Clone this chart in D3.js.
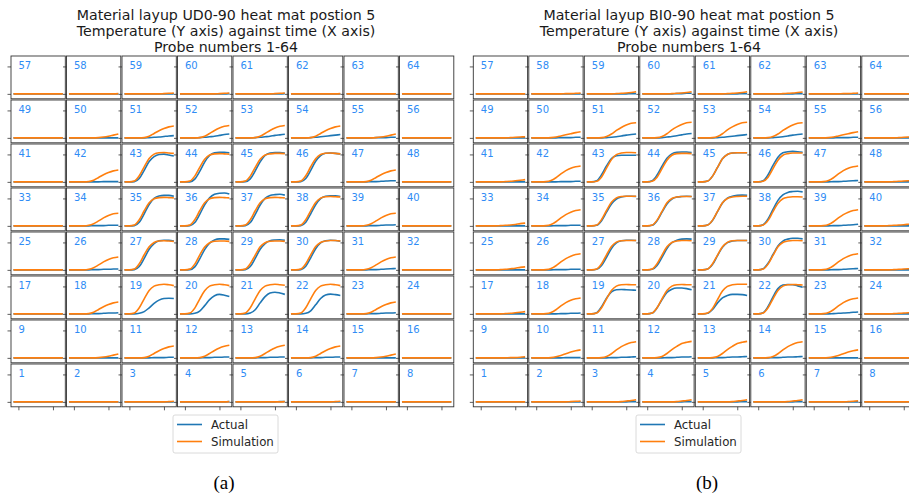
<!DOCTYPE html>
<html>
<head>
<meta charset="utf-8">
<script src="https://cdn.jsdelivr.net/npm/d3@7"></script>
<style>
  html, body { margin: 0; padding: 0; background: #fff; }
  svg { display: block; }
</style>
</head>
<body>
<script>
// ---------------- DATA ----------------
const timeSteps = [0, 1, 2, 3, 4, 5, 6, 7, 8, 9, 10];
const xTicks = [1, 8];
const yTicks = [0, 100];
const seriesNames = ["Actual", "Simulation"];
const titleUD = ["Material layup UD0-90 heat mat postion 5", "Temperature (Y axis) against time (X axis)", "Probe numbers 1-64"];
const titleBI = ["Material layup BI0-90 heat mat postion 5", "Temperature (Y axis) against time (X axis)", "Probe numbers 1-64"];
const captions = ["(a)", "(b)"];

// probe 1..64 (index = probe-1); temperature rise values per time step
const udSimulation = [
  [0,0,0,0,0,0,0,0,0,0,0],[0,0,0,0,0,0,0,0,0,0,0],[0,0,0,0,0,0,0,0,0,1,2],[0,0,0,0,0,0,0,0,0,0,1],
  [0,0,0,0,0,0,0,0,0,0,1],[0,0,0,0,0,0,0,0,0,1,2],[0,0,0,0,0,0,0,0,0,0,0],[0,0,0,0,0,0,0,0,0,0,0],
  [0,0,0,0,0,0,0,0,0,0,0],[0,0,0,0,0,0,1,3,6,10,14],[0,0,0,0,1,6,16,26,34,40,43],[0,0,0,0,1,6,16,27,36,42,46],
  [0,0,0,0,1,6,16,27,36,42,46],[0,0,0,0,1,6,16,26,34,40,43],[0,0,0,0,0,0,1,3,6,10,14],[0,0,0,0,0,0,0,0,0,0,0],
  [0,0,0,0,0,0,0,0,0,0,0],[0,0,0,0,1,6,16,26,34,40,43],[0,0,3,22,55,85,101,106,108,106,103],[0,0,3,21,54,84,101,106,108,106,103],
  [0,0,3,22,55,85,101,106,108,106,104],[0,0,3,22,55,85,101,106,108,106,103],[0,0,0,0,1,6,16,26,34,40,43],[0,0,0,0,0,0,0,0,0,0,0],
  [0,0,0,0,0,0,0,0,0,0,0],[0,0,0,0,2,8,18,29,38,44,47],[0,0,3,22,55,84,100,105,106,105,104],[0,0,3,21,54,83,99,104,105,105,104],
  [0,0,3,22,54,84,99,104,105,105,104],[0,0,3,22,55,85,100,105,107,107,105],[0,0,0,0,2,8,18,29,38,44,47],[0,0,0,0,0,0,0,0,0,0,0],
  [0,0,0,0,0,0,0,0,0,0,0],[0,0,0,0,2,8,18,29,38,44,46],[0,0,3,22,55,84,99,103,104,103,102],[0,0,3,22,55,84,99,103,104,103,102],
  [0,0,3,22,55,84,99,103,104,103,102],[0,0,3,22,55,85,101,106,107,106,105],[0,0,0,0,2,8,18,29,38,44,46],[0,0,0,0,0,0,0,0,0,0,0],
  [0,0,0,0,0,0,0,0,0,0,0],[0,0,0,0,1,6,16,26,34,40,43],[0,0,3,22,55,85,101,106,107,105,104],[0,0,3,21,53,82,98,102,103,102,101],
  [0,0,3,21,53,82,98,102,104,104,103],[0,0,3,22,55,84,100,104,105,104,102],[0,0,0,0,1,6,16,26,34,40,43],[0,0,0,0,0,0,0,0,0,0,0],
  [0,0,0,0,0,0,0,0,0,0,0],[0,0,0,0,0,0,1,3,6,10,14],[0,0,0,0,1,6,16,26,34,40,43],[0,0,0,0,1,6,16,27,36,42,45],
  [0,0,0,0,1,6,16,27,36,42,45],[0,0,0,0,1,6,16,26,34,40,43],[0,0,0,0,0,0,1,3,6,10,14],[0,0,0,0,0,0,0,0,0,0,0],
  [0,0,0,0,0,0,0,0,0,0,0],[0,0,0,0,0,0,0,0,0,0,1],[0,0,0,0,0,0,0,0,1,2,3],[0,0,0,0,0,0,0,0,1,2,3],
  [0,0,0,0,0,0,0,0,1,2,3],[0,0,0,0,0,0,0,0,0,0,1],[0,0,0,0,0,0,0,0,0,0,0],[0,0,0,0,0,0,0,0,0,0,0]
];
const udActual = [
  [0,0,0,0,0,0,0,0,0,0,0],[0,0,0,0,0,0,0,0,0,0,0],[0,0,0,0,0,0,0,0,0,0,0],[0,0,0,0,0,0,0,0,0,0,1],
  [0,0,0,0,0,0,0,0,0,1,1],[0,0,0,0,0,0,0,0,0,0,0],[0,0,0,0,0,0,0,0,0,0,0],[0,0,0,0,0,0,0,0,0,0,0],
  [0,0,0,0,0,0,0,0,0,0,0],[0,0,0,0,0,0,0,0,0,0,0],[0,0,0,0,0,0,1,1,1,2,2],[0,0,0,0,0,1,1,2,2,3,3],
  [0,0,0,0,0,1,1,2,2,3,3],[0,0,0,0,0,1,1,2,2,3,3],[0,0,0,0,0,0,0,0,0,0,0],[0,0,0,0,0,0,0,0,0,0,0],
  [0,0,0,0,0,0,0,0,0,0,0],[0,0,0,0,0,1,1,2,3,3,4],[0,0,0,2,8,22,38,50,56,57,56],[0,0,0,2,10,30,52,66,71,68,63],
  [0,0,0,3,15,40,63,76,79,76,71],[0,0,0,2,11,33,56,69,72,70,67],[0,0,0,0,0,1,1,2,3,3,4],[0,0,0,0,0,0,0,0,0,0,0],
  [0,0,0,0,0,0,0,0,0,0,0],[0,0,0,0,0,1,1,2,2,3,3],[0,0,1,12,42,75,96,106,108,108,105],[0,0,1,11,40,74,97,109,113,113,111],
  [0,0,1,12,42,75,96,106,109,110,108],[0,0,1,13,44,77,98,106,108,107,104],[0,0,0,0,0,1,1,2,3,4,5],[0,0,0,0,0,0,0,0,0,0,0],
  [0,0,0,0,0,0,0,0,0,0,0],[0,0,0,0,0,1,1,1,2,2,2],[0,0,1,13,44,78,100,109,111,111,108],[0,0,1,12,42,77,102,115,119,120,116],
  [0,0,1,12,42,76,100,111,114,115,112],[0,0,1,13,44,77,99,108,110,110,107],[0,0,0,0,0,1,1,2,3,3,4],[0,0,0,0,0,0,0,0,0,0,0],
  [0,0,0,0,0,0,0,0,0,0,0],[0,0,0,0,0,0,0,1,1,1,1],[0,0,1,12,42,74,92,100,101,98,94],[0,0,0,10,38,72,96,106,108,108,106],
  [0,0,1,11,40,73,96,105,107,107,105],[0,0,1,12,42,75,96,104,105,104,102],[0,0,0,0,0,1,1,2,3,4,4],[0,0,0,0,0,0,0,0,0,0,0],
  [0,0,0,0,0,0,0,0,0,0,0],[0,0,0,0,0,0,0,0,0,0,0],[0,0,0,0,0,1,2,3,5,7,8],[0,0,0,0,1,2,4,6,9,12,14],
  [0,0,0,0,1,2,4,6,9,11,13],[0,0,0,0,1,2,4,6,8,10,12],[0,0,0,0,0,0,1,1,1,2,2],[0,0,0,0,0,0,0,0,0,0,0],
  [0,0,0,0,0,0,0,0,0,0,0],[0,0,0,0,0,0,0,0,0,0,0],[0,0,0,0,0,0,0,0,0,0,0],[0,0,0,0,0,0,0,0,0,0,1],
  [0,0,0,0,0,0,0,0,0,0,1],[0,0,0,0,0,0,0,0,0,0,0],[0,0,0,0,0,0,0,0,0,0,0],[0,0,0,0,0,0,0,0,0,0,0]
];
const biSimulation = [
  [0,0,0,0,0,0,0,0,0,0,0],[0,0,0,0,0,0,0,0,1,2,3],[0,0,0,0,0,0,0,1,3,5,8],[0,0,0,0,0,0,0,1,3,5,8],
  [0,0,0,0,0,0,0,1,3,5,8],[0,0,0,0,0,0,0,1,3,5,8],[0,0,0,0,0,0,0,0,1,2,4],[0,0,0,0,0,0,0,0,0,0,0],
  [0,0,0,0,0,0,0,1,1,2,4],[0,0,0,0,1,4,9,15,21,26,29],[0,0,0,1,5,15,29,41,50,56,59],[0,0,0,1,5,16,30,42,52,57,60],
  [0,0,0,1,5,16,30,42,52,57,60],[0,0,0,1,5,15,29,41,50,56,59],[0,0,0,0,1,4,9,15,21,26,29],[0,0,0,0,0,0,0,0,0,0,0],
  [0,0,0,0,0,0,1,2,4,6,8],[0,0,0,1,5,15,29,41,50,55,58],[0,0,3,22,55,85,101,106,107,106,106],[0,0,3,22,55,85,101,106,107,106,106],
  [0,0,3,20,52,83,100,106,108,108,108],[0,0,3,22,55,85,101,106,107,106,105],[0,0,0,1,5,15,29,41,50,55,58],[0,0,0,0,0,0,1,2,3,4,6],
  [0,0,0,0,0,1,2,4,6,9,11],[0,0,0,1,5,15,29,41,50,56,59],[0,0,3,22,55,85,101,106,107,107,107],[0,0,3,22,54,84,100,105,107,107,106],
  [0,0,3,22,54,84,100,106,107,107,107],[0,0,3,21,53,84,100,105,107,107,106],[0,0,0,1,5,15,29,41,50,56,59],[0,0,0,0,0,0,1,2,3,4,5],
  [0,0,0,0,0,1,2,3,5,8,10],[0,0,0,1,5,15,29,41,50,56,59],[0,0,3,23,56,86,102,107,108,108,108],[0,0,3,21,53,84,100,105,107,107,107],
  [0,0,3,21,53,84,100,105,107,108,108],[0,0,3,20,52,82,99,104,106,106,105],[0,0,0,1,5,15,29,41,50,56,59],[0,0,0,0,0,1,2,3,4,6,8],
  [0,0,0,0,0,0,1,2,4,6,8],[0,0,0,1,5,15,29,41,50,55,58],[0,0,2,18,50,81,99,105,107,107,106],[0,0,2,17,48,79,97,103,104,104,103],
  [0,0,3,21,53,84,100,105,106,106,106],[0,0,2,17,48,79,97,103,105,105,105],[0,0,0,1,5,15,29,41,50,55,58],[0,0,0,0,0,0,1,2,3,4,5],
  [0,0,0,0,0,0,0,1,2,3,4],[0,0,0,0,1,3,7,11,15,19,22],[0,0,0,1,5,14,27,38,47,53,55],[0,0,0,1,5,15,29,40,49,55,57],
  [0,0,0,1,5,15,29,40,49,55,57],[0,0,0,1,5,14,27,38,47,53,55],[0,0,0,0,1,3,7,11,15,19,22],[0,0,0,0,0,0,0,1,2,3,4],
  [0,0,0,0,0,0,0,0,0,0,0],[0,0,0,0,0,0,0,1,1,2,3],[0,0,0,0,0,0,1,2,3,5,8],[0,0,0,0,0,0,1,2,3,5,8],
  [0,0,0,0,0,0,1,2,3,5,8],[0,0,0,0,0,0,1,2,3,5,7],[0,0,0,0,0,0,0,1,1,2,3],[0,0,0,0,0,0,0,0,0,0,0]
];
const biActual = [
  [0,0,0,0,0,0,0,0,0,0,0],[0,0,0,0,0,0,0,0,0,0,0],[0,0,0,0,0,0,0,0,0,1,1],[0,0,0,0,0,0,0,0,0,1,1],
  [0,0,0,0,0,0,0,0,0,1,1],[0,0,0,0,0,0,0,0,0,1,1],[0,0,0,0,0,0,0,0,0,0,0],[0,0,0,0,0,0,0,0,0,0,0],
  [0,0,0,0,0,0,0,0,0,0,0],[0,0,0,0,0,0,0,1,1,1,1],[0,0,0,0,0,1,1,2,2,3,4],[0,0,0,0,0,1,1,2,3,3,4],
  [0,0,0,0,1,1,2,3,3,4,5],[0,0,0,0,1,1,2,3,3,4,5],[0,0,0,0,0,0,0,0,0,0,0],[0,0,0,0,0,0,0,0,0,0,0],
  [0,0,0,0,0,0,0,0,0,0,0],[0,0,0,0,0,0,1,1,2,2,3],[0,0,4,26,57,80,88,89,88,87,86],[0,0,3,22,52,78,90,94,94,92,88],
  [0,0,2,16,40,58,67,71,71,70,67],[0,0,4,27,62,92,105,107,106,102,97],[0,0,0,0,0,1,2,3,4,6,7],[0,0,0,0,0,0,0,0,0,0,0],
  [0,0,0,0,0,0,0,0,0,0,0],[0,0,0,0,0,1,1,1,2,2,2],[0,0,2,16,46,78,98,106,108,108,107],[0,0,2,16,46,78,99,108,112,113,112],
  [0,0,3,20,52,82,99,105,107,107,107],[0,0,4,24,56,87,105,112,115,115,113],[0,0,0,0,0,1,1,2,3,4,5],[0,0,0,0,0,0,0,0,0,0,0],
  [0,0,0,0,0,0,0,0,0,0,0],[0,0,0,0,0,1,1,1,2,2,2],[0,0,2,19,50,80,98,105,108,108,107],[0,0,2,19,50,80,98,105,107,108,107],
  [0,0,3,20,52,83,101,108,111,112,111],[0,0,4,25,60,93,113,122,125,126,124],[0,0,0,0,0,1,1,2,3,4,6],[0,0,0,0,0,0,0,0,0,0,0],
  [0,0,0,0,0,0,0,0,0,0,0],[0,0,0,0,0,0,1,1,1,2,2],[0,0,4,26,58,85,95,97,97,97,97],[0,0,4,25,57,86,102,108,109,109,107],
  [0,0,3,21,53,84,100,105,106,106,106],[0,0,4,26,60,90,106,110,111,110,108],[0,0,0,0,0,1,1,2,3,4,5],[0,0,0,0,0,0,0,0,0,0,0],
  [0,0,0,0,0,0,0,0,0,0,0],[0,0,0,0,0,0,1,1,1,2,2],[0,0,0,0,1,2,4,7,10,12,14],[0,0,0,0,1,3,5,8,11,14,16],
  [0,0,0,0,1,2,4,6,8,10,12],[0,0,0,0,1,2,4,7,10,12,14],[0,0,0,0,0,0,1,1,1,2,2],[0,0,0,0,0,0,0,0,0,0,0],
  [0,0,0,0,0,0,0,0,0,0,0],[0,0,0,0,0,0,0,0,0,0,0],[0,0,0,0,0,0,0,0,0,1,1],[0,0,0,0,0,0,0,1,1,2,2],
  [0,0,0,0,0,0,0,0,0,1,1],[0,0,0,0,0,0,0,0,0,1,1],[0,0,0,0,0,0,0,0,0,0,0],[0,0,0,0,0,0,0,0,0,0,0]
];

// ---------------- DRAWING ----------------
const W = 909, H = 497;
const colors = { Actual: "#1f77b4", Simulation: "#ff7f0e" };
const svg = d3.select("body").append("svg").attr("width", W).attr("height", H);

const panels = [
  { title: titleUD, x0: 11,    titleX: 226, capX: 224, legendX: 173, caption: captions[0], act: udActual, sim: udSimulation },
  { title: titleBI, x0: 473.3, titleX: 689, capX: 707, legendX: 636, caption: captions[1], act: biActual, sim: biSimulation }
];
const gridTop = 56, cw = 55.5, ch = 44;
const x = d3.scaleLinear().domain([-0.5, 10.5]).range([0, cw - 1.2]);
const y = d3.scaleLinear().domain([-18, 138]).range([ch - 1.2, 0]);
const line = d3.line().x((d, i) => x(timeSteps[i])).y(d => y(d)).curve(d3.curveMonotoneX);

panels.forEach((P, pi) => {
  const g = svg.append("g");
  // title
  P.title.forEach((t, i) => {
    g.append("text").attr("x", P.titleX).attr("y", 20 + i * 16)
      .attr("text-anchor", "middle")
      .attr("font-family", "DejaVu Sans, sans-serif").attr("font-size", 14.2)
      .attr("fill", "#1a1a1a").text(t);
  });
  for (let p = 1; p <= 64; p++) {
    const r = 7 - Math.floor((p - 1) / 8);
    const c = (p - 1) % 8;
    const cg = g.append("g").attr("transform", `translate(${P.x0 + c * cw},${gridTop + r * ch})`);
    const clipId = `clip-${pi}-${p}`;
    cg.append("clipPath").attr("id", clipId).append("rect")
      .attr("width", cw - 1.2).attr("height", ch - 1.2);
    // lines
    const lg = cg.append("g").attr("clip-path", `url(#${clipId})`);
    lg.append("path").datum(P.act[p - 1]).attr("d", line)
      .attr("fill", "none").attr("stroke", colors.Actual).attr("stroke-width", 1.6);
    lg.append("path").datum(P.sim[p - 1]).attr("d", line)
      .attr("fill", "none").attr("stroke", colors.Simulation).attr("stroke-width", 1.6);
    // frame
    cg.append("rect").attr("width", cw - 1.2).attr("height", ch - 1.2)
      .attr("fill", "none").attr("stroke", "#333").attr("stroke-width", 0.9);
    // y ticks
    const ya = cg.append("g").call(d3.axisLeft(y).tickValues(yTicks).tickSize(3.5).tickFormat(""));
    ya.select(".domain").remove();
    ya.selectAll("line").attr("stroke", "#333").attr("stroke-width", 0.8);
    // x ticks on bottom row
    if (r === 7) {
      const xa = cg.append("g").attr("transform", `translate(0,${ch - 1.2})`)
        .call(d3.axisBottom(x).tickValues(xTicks).tickSize(3.5).tickFormat(""));
      xa.select(".domain").remove();
      xa.selectAll("line").attr("stroke", "#333").attr("stroke-width", 0.8);
    }
    // probe label
    cg.append("text").attr("x", 7.5).attr("y", 12.8)
      .attr("font-family", "DejaVu Sans, sans-serif").attr("font-size", 10)
      .attr("fill", "#2f8cf5").text(p);
  }
  // legend
  const lgd = g.append("g").attr("transform", `translate(${P.legendX},415)`);
  lgd.append("rect").attr("width", 105).attr("height", 38).attr("rx", 2)
    .attr("fill", "#fff").attr("stroke", "#d0d0d0").attr("stroke-width", 0.8);
  seriesNames.forEach((s, i) => {
    lgd.append("line").attr("x1", 4).attr("x2", 29).attr("y1", 9.5 + i * 17).attr("y2", 9.5 + i * 17)
      .attr("stroke", colors[s]).attr("stroke-width", 1.6);
    lgd.append("text").attr("x", 38).attr("y", 13.5 + i * 17)
      .attr("font-family", "DejaVu Sans, sans-serif").attr("font-size", 11.8)
      .attr("fill", "#262626").text(s);
  });
  // caption
  g.append("text").attr("x", P.capX).attr("y", 489).attr("text-anchor", "middle")
    .attr("font-family", "Liberation Serif, Times New Roman, serif").attr("font-size", 19)
    .attr("fill", "#000").text(P.caption);
});
</script>
</body>
</html>
